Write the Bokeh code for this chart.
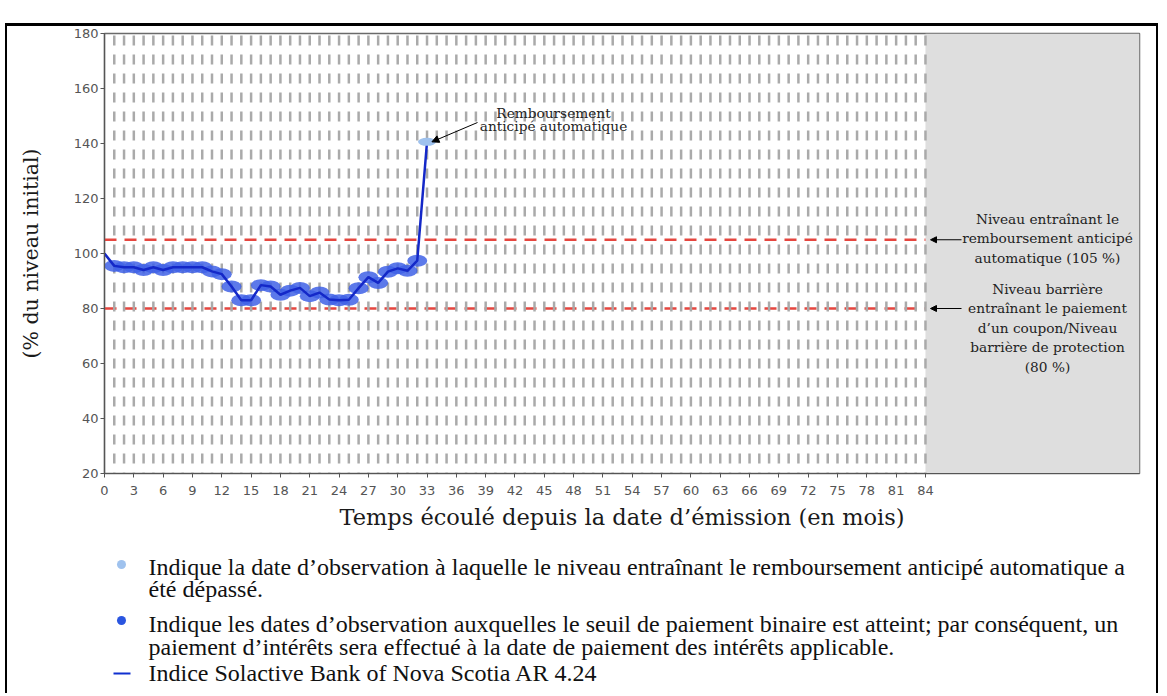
from bokeh.plotting import figure
from bokeh.layouts import column
from bokeh.models import (Range1d, Label, Arrow, NormalHead, BoxAnnotation, FixedTicker,
                          InlineStyleSheet)
from bokeh.core.properties import value
from bokeh.embed import file_html
from bokeh.resources import INLINE

# ---------------- data ----------------
months = list(range(0, 34))
index_level = [100, 95.5, 95, 95, 94, 95, 94, 95, 95, 95, 95, 93.5, 92.5, 88, 83, 83,
               88.5, 88, 85, 86.5, 87.5, 84.5, 85.8, 83.3, 83, 83.2, 87.4, 91.4, 89.3,
               93.4, 94.6, 93.7, 97.4, 140.6]
autocall_level = 105
barrier_level = 80
maturity = 84
x_ticks = list(range(0, 85, 3))
y_ticks = [20, 40, 60, 80, 100, 120, 140, 160, 180]

callout_autocall = ["Remboursement", "anticipé automatique"]
note_autocall = ["Niveau entraînant le", "remboursement anticipé", "automatique (105 %)"]
note_barrier = ["Niveau barrière", "entraînant le paiement", "d’un coupon/Niveau",
                "barrière de protection", "(80 %)"]
legend_lines = [
    "Indique la date d’observation à laquelle le niveau entraînant le remboursement anticipé automatique a",
    "été dépassé.",
    "Indique les dates d’observation auxquelles le seuil de paiement binaire est atteint; par conséquent, un",
    "paiement d’intérêts sera effectué à la date de paiement des intérêts applicable.",
    "Indice Solactive Bank of Nova Scotia AR 4.24",
]
legend_colors = ["#9fc2ee", "#2a55e0", "#1030d0"]

# ---------------- geometry helpers (page px -> data) ----------------
W = 1160
FW, FH = 1035, 440
X_END = 105.9
XS = FW / X_END
YS = FH / 160.0
FX0, FY0 = 104.0, 33.0
MAIN_H = 533
LEG_H = 155


def dx(px):
    return (px - FX0) / XS


def dy(py):
    return 180 - (py - FY0) / YS


p = figure(frame_width=FW, frame_height=FH,
           x_range=Range1d(0, X_END), y_range=Range1d(20, 180),
           output_backend="svg", toolbar_location=None,
           min_border_left=int(FX0), min_border_right=W - int(FX0) - FW,
           min_border_top=int(FY0), min_border_bottom=MAIN_H - int(FY0) - FH)
p.frame_align = False
p.background_fill_color = "white"
p.border_fill_color = None
p.outline_line_color = "#6a6a6a"
p.outline_line_width = 1.5
p.xgrid.grid_line_color = None
p.ygrid.grid_line_color = None

# grey region after maturity
p.add_layout(BoxAnnotation(left=maturity, fill_color="#dedede", fill_alpha=1.0, line_color=None, level="underlay"))

# red threshold lines
p.segment(x0=[0, 0], y0=[autocall_level, barrier_level], x1=[maturity, maturity],
          y1=[autocall_level, barrier_level], line_color="#e5463f", line_width=2.5, line_dash="12 8")

# vertical dashed grid at each month
grid_x = list(range(1, maturity + 1))
p.segment(x0=grid_x, y0=[180] * len(grid_x), x1=grid_x, y1=[20] * len(grid_x),
          line_color="#aaaaaa", line_width=2.5, line_dash="10 9", line_dash_offset=17)

# observation markers
p.ellipse(x=months[1:-1], y=index_level[1:-1], width=20, height=12,
          width_units="screen", height_units="screen",
          fill_color="#3f62e6", fill_alpha=0.85, line_color=None)
p.line(months, index_level, line_color="#1428c8", line_width=2.5)
p.ellipse(x=months[-1:], y=index_level[-1:], width=18, height=8,
          width_units="screen", height_units="screen",
          fill_color="#9fc2ee", fill_alpha=1.0, line_color=None)

# axes
p.xaxis.ticker = FixedTicker(ticks=x_ticks)
p.yaxis.ticker = FixedTicker(ticks=y_ticks)
for ax in (p.xaxis[0], p.yaxis[0]):
    ax.axis_line_color = "#555555"
    ax.axis_line_width = 1.2
    ax.major_tick_line_color = "#555555"
    ax.major_tick_out = 4
    ax.major_tick_in = 0
    ax.minor_tick_line_color = None
    ax.major_label_text_font = "DejaVu Sans"
    ax.major_label_text_font_size = "13px"
    ax.major_label_text_color = "#555555"
    ax.axis_label_text_font = "DejaVu Serif"
    ax.axis_label_text_font_style = "normal"
    ax.axis_label_text_color = "#1a1a1a"
p.xaxis.axis_label_text_font_size = "22.5px"
p.yaxis.axis_label_text_font_size = "20.5px"
p.xaxis.axis_label = "Temps écoulé depuis la date d’émission (en mois)"
p.yaxis.axis_label = "(% du niveau initial)"
p.xaxis.major_label_standoff = 8
p.yaxis.major_label_standoff = 2
p.xaxis.axis_label_standoff = 6
p.yaxis.axis_label_standoff = 28

# annotations
serif = dict(text_font="DejaVu Serif", text_font_size="13.7px", text_color="#222222",
             text_align="center", text_baseline="middle")
for i, t in enumerate(callout_autocall):
    p.add_layout(Label(x=dx(553), y=dy(112 + 13.5 * i), text=t, **serif))
p.add_layout(Arrow(end=NormalHead(size=7, fill_color="black", line_color="black"),
                   x_start=dx(477), y_start=dy(122), x_end=months[-1] + 0.5, y_end=index_level[-1],
                   line_color="black", line_width=1))

for i, t in enumerate(note_autocall):
    p.add_layout(Label(x=dx(1047), y=dy(218 + 19.5 * i), text=t, **serif))
for i, t in enumerate(note_barrier):
    p.add_layout(Label(x=dx(1047), y=dy(288.5 + 19.4 * i), text=t, **serif))
for lvl in (autocall_level, barrier_level):
    p.add_layout(Arrow(end=NormalHead(size=6, fill_color="black", line_color="black"),
                       x_start=dx(961), y_start=lvl, x_end=dx(930), y_end=lvl,
                       line_color="black", line_width=1))

# ---------------- legend figure below (page pixel coordinates) ----------------
q = figure(frame_width=W, frame_height=LEG_H, x_range=Range1d(0, W),
           y_range=Range1d(MAIN_H + LEG_H, MAIN_H),
           output_backend="svg", toolbar_location=None,
           x_axis_type=None, y_axis_type=None,
           min_border_left=0, min_border_right=0, min_border_top=0, min_border_bottom=0)
q.frame_align = False
q.xgrid.grid_line_color = None
q.ygrid.grid_line_color = None
q.outline_line_color = None
q.background_fill_color = None
q.border_fill_color = None

legend_y = [566, 588, 623, 646, 672]
q.text(x=[148] * len(legend_lines), y=legend_y, text=legend_lines,
       text_font=value("Liberation Serif"), text_font_size="24px", text_color="#111111",
       text_align="left", text_baseline="middle")
q.scatter(x=[121, 121], y=[564, 620], size=9, marker="circle",
          fill_color=legend_colors[:2], line_color=None)
q.segment(x0=[113], y0=[673], x1=[130], y1=[673], line_color=legend_colors[2], line_width=2)

frame_css = InlineStyleSheet(css="""
:host { position: relative; }
:host::after {
  content: "";
  position: absolute;
  left: 5px; top: 23px; width: 1153px; height: 670px;
  box-sizing: border-box;
  border-left: 2px solid #000;
  border-top: 3px solid #000;
  border-right: 2px solid #000;
  pointer-events: none;
}
""")

layout = column(p, q, stylesheets=[frame_css])
open("out.html", "w").write(file_html(layout, INLINE))
